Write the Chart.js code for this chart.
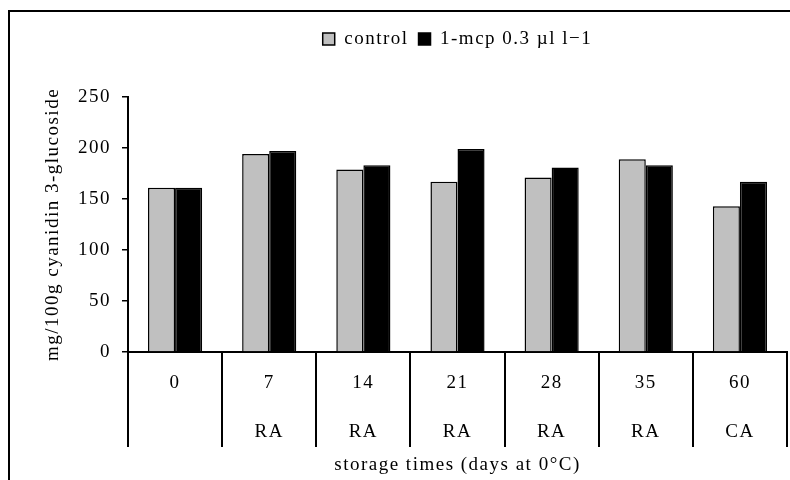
<!DOCTYPE html>
<html>
<head>
<meta charset="utf-8">
<title>Anthocyanins during storage</title>
<script src="https://cdn.jsdelivr.net/npm/chart.js@4.4.1/dist/chart.umd.min.js"></script>
<style>
  html, body { margin: 0; padding: 0; background: #fff; }
  #wrap { position: relative; width: 790px; height: 480px; overflow: hidden; }
  #chart { position: absolute; left: 0; top: 0; }
  #frame {
    position: absolute; left: 8px; top: 10px; width: 800px; height: 480px;
    border-left: 2px solid #000; border-top: 2px solid #000; pointer-events: none;
  }
</style>
</head>
<body>
<div id="wrap">
  <canvas id="chart" width="790" height="480"></canvas>
  <div id="frame"></div>
</div>
<script>
// ── Data ────────────────────────────────────────────────────

const storageDays = ['0', '7', '14', '21', '28', '35', '60'];
const atmosphere  = ['', 'RA', 'RA', 'RA', 'RA', 'RA', 'CA'];
const controlValues = [161, 194, 179, 167, 171, 189, 143];
const mcpValues     = [161, 197, 183, 199, 181, 183, 167];
const yTicks = [0, 50, 100, 150, 200, 250];

// ── Style ───────────────────────────────────────────────────

const FONT = '"Liberation Serif", "Times New Roman", serif';
Chart.defaults.font.family = FONT;
Chart.defaults.color = '#000';

// the original text is set a little loose
const letterSpacing = {
    id: 'letterSpacing',
    beforeUpdate(chart) { chart.ctx.letterSpacing = '1.5px'; },
    beforeDraw(chart)   { chart.ctx.letterSpacing = '1.5px'; },
};

// ── Chart ───────────────────────────────────────────────────

new Chart(document.getElementById('chart'), {
    type: 'bar',
    data: {
        labels: storageDays.map((d, i) => [d, atmosphere[i]]),
        datasets: [
            {
                label: 'control',
                data: controlValues,
                backgroundColor: '#c0c0c0',
                borderColor: '#000',
                borderWidth: 1.5,
            },
            {
                label: '1-mcp 0.3 µl l\u22121',
                data: mcpValues,
                backgroundColor: '#000',
                borderColor: '#000',
                borderWidth: 1.5,
            },
        ],
    },
    options: {
        responsive: false,
        animation: false,
        categoryPercentage: 0.575,
        barPercentage: 1.0,
        layout: { padding: { top: 19.5, left: 0, right: 3, bottom: 0 } },
        plugins: {
            legend: {
                position: 'top',
                fullSize: false,
                labels: { boxWidth: 12, boxHeight: 12, padding: 10, font: { size: 19 }, color: '#000' },
            },
            // empty title used as a gap between legend and plot
            title: {
                display: true, text: '', weight: 500,
                font: { size: 10, lineHeight: 1 },
                padding: { top: 0, bottom: 28.5 },
            },
            tooltip: { enabled: false },
        },
        scales: {
            x: {
                afterFit: (scale) => { scale.height = 128; },
                grid: {
                    display: true, offset: true, drawOnChartArea: false, drawTicks: true,
                    tickLength: 95, color: '#000', lineWidth: 2,
                },
                border: { display: true, color: '#000', width: 2 },
                ticks: {
                    font: { size: 19, lineHeight: '49px' }, color: '#000',
                    padding: -88.5, maxRotation: 0, autoSkip: false,
                },
                title: {
                    display: true, text: 'storage times (days at 0°C)', color: '#000',
                    font: { size: 19, lineHeight: 0.85 },
                    padding: { top: 0.5, bottom: 7 },
                },
            },
            y: {
                min: yTicks[0],
                max: yTicks[yTicks.length - 1],
                afterBuildTicks: (axis) => { axis.ticks = yTicks.map(v => ({ value: v })); },
                afterFit: (scale) => { scale.width = 128; },
                ticks: { font: { size: 19 }, color: '#000', padding: 11 },
                grid: { drawOnChartArea: false, drawTicks: true, tickLength: 6, color: '#000', lineWidth: 1.5 },
                border: { display: true, color: '#000', width: 2 },
                title: {
                    display: true, text: 'mg/100g cyanidin 3-glucoside', color: '#000',
                    font: { size: 19 },
                    padding: { top: 41.6, bottom: 13.6 },
                },
            },
        },
    },
    plugins: [letterSpacing],
});
</script>
</body>
</html>
